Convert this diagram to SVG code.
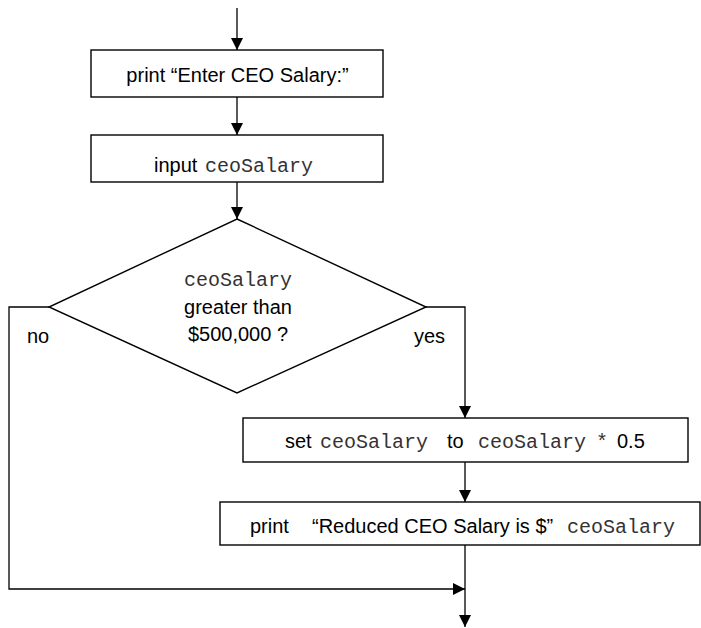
<svg xmlns="http://www.w3.org/2000/svg" width="701" height="628" viewBox="0 0 701 628">
<style>
.box{fill:#fff;stroke:#000;stroke-width:1.4}
.ln{fill:none;stroke:#000;stroke-width:1.3}
.s{font-family:"Liberation Sans",Arial,sans-serif;font-size:20px;fill:#000}
.m{font-family:"Liberation Mono","Courier New",monospace;font-size:20px;fill:#333}
</style>
<defs>
<marker id="ah" viewBox="0 0 12 12" refX="12" refY="6" markerWidth="12" markerHeight="12" markerUnits="userSpaceOnUse" orient="auto">
<path d="M0,0 L12,6 L0,12 z" fill="#000"/>
</marker>
</defs>
<rect width="701" height="628" fill="#fff"/>
<g id="connectors">
<path class="ln" d="M237,8 V50" marker-end="url(#ah)"/>
<path class="ln" d="M237,97 V135" marker-end="url(#ah)"/>
<path class="ln" d="M237,182 V219" marker-end="url(#ah)"/>
<path class="ln" d="M426,307 H465 V418" marker-end="url(#ah)"/>
<path class="ln" d="M465,462 V502" marker-end="url(#ah)"/>
<path class="ln" d="M49,307 H9 V589 H465" marker-end="url(#ah)"/>
<path class="ln" d="M465,545 V627" marker-end="url(#ah)"/>
</g>
<g id="print1">
<rect class="box" x="91" y="50" width="292" height="47"/>
<text class="s" x="237.5" y="82" text-anchor="middle">print “Enter CEO Salary:”</text>
</g>
<g id="input">
<rect class="box" x="91" y="135" width="292" height="47"/>
<text class="s" x="154" y="172">input</text>
<text class="m" x="205" y="172">ceoSalary</text>
</g>
<g id="decision">
<polygon class="box" points="237,219 426,307 237,393 49,307"/>
<text class="m" x="238" y="286" text-anchor="middle">ceoSalary</text>
<text class="s" x="238" y="314" text-anchor="middle">greater than</text>
<text class="s" x="238" y="341" text-anchor="middle">$500,000 ?</text>
</g>
<g id="labels">
<text class="s" x="27" y="343">no</text>
<text class="s" x="414" y="343">yes</text>
</g>
<g id="set">
<rect class="box" x="243" y="418" width="445" height="44"/>
<text class="s" x="285" y="448">set</text>
<text class="m" x="320" y="448">ceoSalary</text>
<text class="s" x="447" y="448">to</text>
<text class="m" x="478" y="448">ceoSalary</text>
<text class="m" x="596" y="448">*</text>
<text class="s" x="617" y="448">0.5</text>
</g>
<g id="print2">
<rect class="box" x="220" y="502" width="480" height="43"/>
<text class="s" x="250" y="533">print</text>
<text class="s" x="312" y="533">“Reduced CEO Salary is $”</text>
<text class="m" x="567" y="533">ceoSalary</text>
</g>
</svg>
